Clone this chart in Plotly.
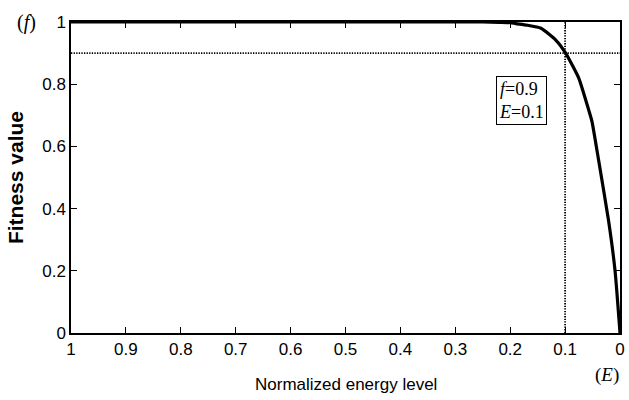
import plotly.graph_objects as go

# Data
energy = [1.0, 0.8, 0.6, 0.4, 0.3, 0.25, 0.22, 0.2, 0.19, 0.17, 0.144, 0.117, 0.099,
          0.075, 0.057, 0.051, 0.039, 0.021, 0.009, 0.0]
fitness = [1.0, 1.0, 1.0, 1.0, 1.0, 1.0, 0.999, 0.998, 0.995, 0.99, 0.98, 0.942, 0.9,
           0.819, 0.717, 0.68, 0.556, 0.363, 0.2, 0.0]
ref_f = 0.9
ref_E = 0.1
x_ticks = [1, 0.9, 0.8, 0.7, 0.6, 0.5, 0.4, 0.3, 0.2, 0.1, 0]
x_tick_labels = ["1", "0.9", "0.8", "0.7", "0.6", "0.5", "0.4", "0.3", "0.2", "0.1", "0"]
y_ticks = [0, 0.2, 0.4, 0.6, 0.8, 1]
y_tick_labels = ["0", "0.2", "0.4", "0.6", "0.8", "1"]

sans = "Liberation Sans, Arial, sans-serif"
serif = "Liberation Serif, Times New Roman, serif"

fig = go.Figure()
fig.add_trace(go.Scatter(x=[1, 0], y=[ref_f, ref_f], mode="lines",
                         line=dict(color="black", width=1.8, dash="1.3px,1.3px"),
                         hoverinfo="skip", showlegend=False))
fig.add_trace(go.Scatter(x=[ref_E, ref_E], y=[0, 1], mode="lines",
                         line=dict(color="black", width=1.8, dash="1.3px,1.3px"),
                         hoverinfo="skip", showlegend=False))
fig.add_trace(go.Scatter(x=energy, y=fitness, mode="lines",
                         line=dict(color="black", width=3.2, shape="spline", smoothing=0.5),
                         showlegend=False))

fig.update_layout(
    width=629, height=400,
    margin=dict(l=71, r=4, t=22, b=67),
    paper_bgcolor="white", plot_bgcolor="white",
    showlegend=False,
    xaxis=dict(range=[1, 0], tickvals=x_ticks, ticktext=x_tick_labels,
               ticks="inside", ticklen=6, tickwidth=1.2, tickcolor="black",
               showline=True, linecolor="black", linewidth=1.5, mirror="ticks",
               showgrid=False, zeroline=False,
               tickfont=dict(family=sans, size=17, color="black")),
    yaxis=dict(range=[0, 1], tickvals=y_ticks, ticktext=y_tick_labels,
               ticks="inside", ticklen=6, tickwidth=1.2, tickcolor="black",
               showline=True, linecolor="black", linewidth=1.5, mirror="ticks",
               showgrid=False, zeroline=False,
               tickfont=dict(family=sans, size=17, color="black")),
)

fig.add_annotation(xref="paper", yref="paper", x=0.5, y=-0.167,
                   text="Normalized energy level", showarrow=False,
                   font=dict(family=sans, size=17, color="black"),
                   xanchor="center", yanchor="middle")
fig.add_annotation(xref="paper", yref="paper", x=-0.101, y=0.5,
                   text="<b>Fitness value</b>", showarrow=False, textangle=-90,
                   font=dict(family=sans, size=21, color="black"),
                   xanchor="center", yanchor="middle")
fig.add_annotation(xref="paper", yref="paper", x=-0.081, y=1.0,
                   text="(<i>f</i>)", showarrow=False,
                   font=dict(family=serif, size=20, color="black"),
                   xanchor="center", yanchor="middle")
fig.add_annotation(xref="paper", yref="paper", x=0.977, y=-0.135,
                   text="(<i>E</i>)", showarrow=False,
                   font=dict(family=serif, size=19, color="black"),
                   xanchor="center", yanchor="middle")
fig.add_annotation(xref="x", yref="y", x=0.179, y=0.749,
                   text="<i>f</i>=0.9<br><i>E</i>=0.1", showarrow=False,
                   font=dict(family=serif, size=18, color="black"),
                   bordercolor="black", borderwidth=1, borderpad=2, bgcolor="white",
                   align="left", xanchor="center", yanchor="middle")

fig.write_html("out.html", config={"displayModeBar": False},
               post_script="document.body.style.margin='0';")
